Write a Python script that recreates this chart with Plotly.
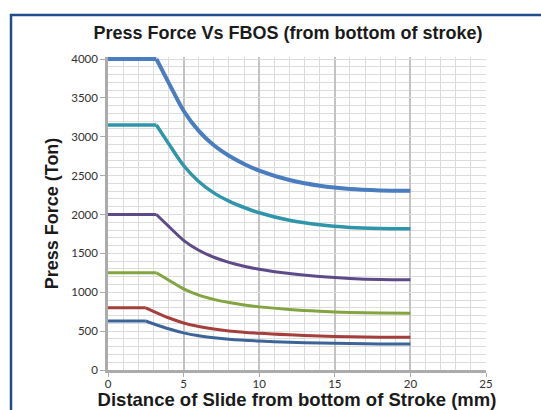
import plotly.graph_objects as go

# ---- data ----
x_big = [0, 3.2, 4, 5, 6, 7, 8, 9, 10, 12, 14, 16, 18, 20]
x_small = [0, 2.5, 3, 4, 5, 6, 7, 8, 10, 12, 14, 16, 18, 20]

press_4000 = [4000, 4000, 3700, 3335, 3075, 2890, 2755, 2650, 2565, 2443, 2369, 2327, 2310, 2306]
press_3150 = [3150, 3150, 2915, 2630, 2425, 2278, 2172, 2090, 2022, 1925, 1867, 1834, 1820, 1816]
press_2000 = [2000, 2000, 1850, 1668, 1540, 1450, 1385, 1335, 1295, 1240, 1203, 1178, 1164, 1160]
press_1250 = [1250, 1250, 1157, 1043, 963, 908, 868, 836, 812, 778, 755, 740, 732, 729]
press_800 = [800, 800, 755, 672, 605, 560, 527, 503, 472, 452, 437, 427, 422, 420]
press_630 = [630, 630, 595, 530, 477, 441, 416, 397, 373, 357, 347, 340, 336, 334]

series = [
    ("4000 Ton", x_big, press_4000, "#4A7DC0", 4),
    ("3150 Ton", x_big, press_3150, "#2F95AA", 3.5),
    ("2000 Ton", x_big, press_2000, "#5F4A89", 3),
    ("1250 Ton", x_big, press_1250, "#82A540", 3),
    ("800 Ton", x_small, press_800, "#A63F3C", 3),
    ("630 Ton", x_small, press_630, "#3D6498", 3),
]

x_ticks = [0, 5, 10, 15, 20, 25]
y_ticks = [0, 500, 1000, 1500, 2000, 2500, 3000, 3500, 4000]

fig = go.Figure()
for name, xs, ys, col, w in series:
    # constant-capacity part (straight) and falling part (smoothed)
    fig.add_trace(go.Scatter(
        x=xs[:2], y=ys[:2], name=name, mode="lines",
        line=dict(color=col, width=w), showlegend=False, hoverinfo="skip",
    ))
    fig.add_trace(go.Scatter(
        x=xs[1:], y=ys[1:], name=name, mode="lines",
        line=dict(color=col, width=w, shape="spline", smoothing=0.8),
        showlegend=False,
    ))

W, H = 541, 410
L, R, T, B = 108, 55, 57, 40
pw, ph = W - L - R, H - T - B
y_top = 4000 * ph / 311.0  # leave a little room above 4000 so the top line is not cut

def px(xp):
    return (xp - L) / pw

def py(yp):
    return (H - B - yp) / ph

title_font = dict(family="Liberation Sans, Arial", size=18, color="#1a1a1a")
xtitle_font = dict(family="Liberation Sans, Arial", size=18.5, color="#1a1a1a")
tick_font = dict(family="Lato, Liberation Sans", size=11.5, color="#303030")

fig.update_layout(
    width=W, height=H,
    margin=dict(l=L, r=R, t=T, b=B),
    paper_bgcolor="white", plot_bgcolor="white",
    title=dict(text="<b>Press Force Vs FBOS (from bottom of stroke)</b>",
               font=title_font, x=288 / W, xanchor="center",
               y=1 - 33 / H, yanchor="middle"),
    xaxis=dict(
        range=[0, 25], tickvals=x_ticks, ticktext=[str(v) for v in x_ticks],
        showgrid=True, gridcolor="#C3C3C3", gridwidth=1.6,
        minor=dict(dtick=1, showgrid=True, gridcolor="#DCDCDC", gridwidth=1.2),
        showline=True, linecolor="#ABABAB", linewidth=2.5,
        ticks="outside", ticklen=4, tickcolor="#ABABAB", tickwidth=1,
        ticklabelstandoff=-3,
        zeroline=False, automargin=False,
        tickfont=tick_font,
        title=dict(text="<b>Distance of Slide from bottom of Stroke (mm)</b>",
                   font=xtitle_font, standoff=4),
    ),
    yaxis=dict(
        range=[0, y_top], tickvals=y_ticks, ticktext=[str(v) for v in y_ticks],
        showgrid=True, gridcolor="#DCDCDC", gridwidth=1.2,
        minor=dict(tick0=0, dtick=100, showgrid=True, gridcolor="#DCDCDC", gridwidth=1.2),
        showline=True, linecolor="#ABABAB", linewidth=2.5,
        ticks="outside", ticklen=5, tickcolor="#ABABAB", tickwidth=1,
        zeroline=False, automargin=False,
        tickfont=tick_font,
        title=dict(text="<b>Press Force (Ton)</b>", font=title_font, standoff=8),
    ),
    shapes=[
        dict(type="rect", xref="paper", yref="paper",
             x0=px(11), x1=px(560), y0=py(430), y1=py(15),
             line=dict(color="#1F4E8C", width=2.5), fillcolor="rgba(0,0,0,0)",
             layer="above"),
    ],
)

fig.write_html("out.html", config={"displayModeBar": False},
               post_script="document.body.style.margin='0';")
